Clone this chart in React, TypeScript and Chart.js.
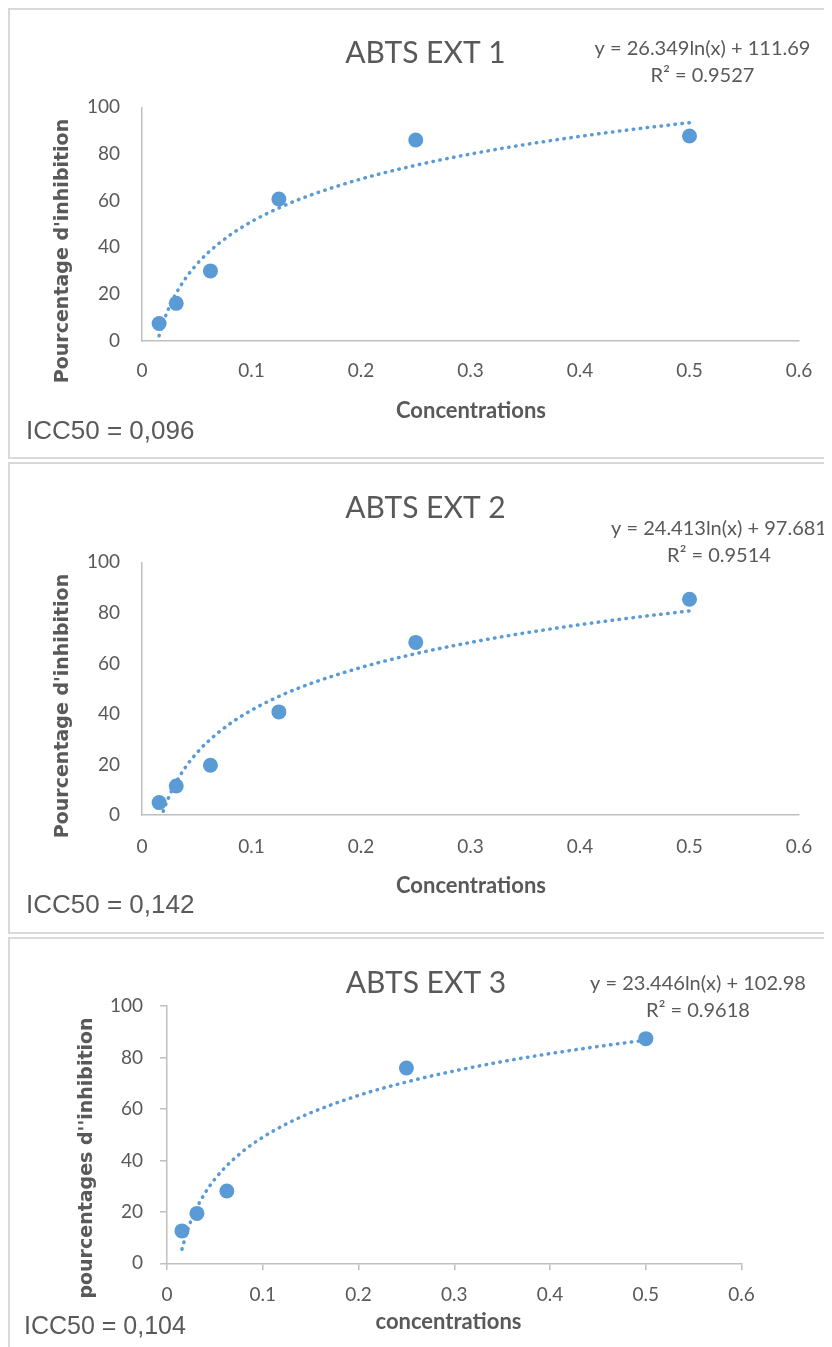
import React, { useEffect, useRef } from 'react';
import { Chart, registerables } from 'chart.js';
Chart.register(...registerables);

// ---- data ----
const concentrations = [0.015625, 0.03125, 0.0625, 0.125, 0.25, 0.5];
const concentrationsExt3 = [0.015625, 0.03125, 0.0625, 0.25, 0.5];
const inhibitionExt1 = [7.4, 16.0, 29.9, 60.7, 86.0, 87.7];
const inhibitionExt2 = [4.9, 11.5, 19.7, 40.8, 68.3, 85.4];
const inhibitionExt3 = [12.6, 19.4, 28.1, 75.9, 87.3];

const trendX = [0.015625, 0.02, 0.025, 0.03, 0.04, 0.05, 0.06, 0.08, 0.1, 0.125, 0.15, 0.2, 0.25, 0.3, 0.35, 0.4, 0.45, 0.5];
const trendExt1 = [2.11, 8.61, 14.49, 19.3, 26.88, 32.76, 37.56, 45.14, 51.02, 56.9, 61.7, 69.28, 75.16, 79.97, 84.03, 87.55, 90.65, 93.43];
const trendExt2 = [-3.85, 2.18, 7.62, 12.08, 19.1, 24.55, 29.0, 36.02, 41.47, 46.92, 51.37, 58.39, 63.84, 68.29, 72.05, 75.31, 78.19, 80.76];
const trendExt3 = [5.47, 11.26, 16.49, 20.77, 27.51, 32.74, 37.02, 43.76, 48.99, 54.23, 58.5, 65.25, 70.48, 74.75, 78.37, 81.5, 84.26, 86.73];

const xTickLabels = ['0', '0.1', '0.2', '0.3', '0.4', '0.5', '0.6'];
const yTickLabels = ['0', '20', '40', '60', '80', '100'];

const titles = ['ABTS EXT 1', 'ABTS EXT 2', 'ABTS EXT 3'];
const equations = ['y = 26.349ln(x) + 111.69', 'y = 24.413ln(x) + 97.681', 'y = 23.446ln(x) + 102.98'];
const rSquared = ['R² = 0.9527', 'R² = 0.9514', 'R² = 0.9618'];
const icc50 = ['ICC50 = 0,096', 'ICC50 = 0,142', 'ICC50 = 0,104'];
const xTitles = ['Concentrations', 'Concentrations', 'concentrations'];
const yTitles = ["Pourcentage d'inhibition", "Pourcentage d'inhibition", "pourcentages d''inhibition"];

const seriesX = [concentrations, concentrations, concentrationsExt3];
const seriesY = [inhibitionExt1, inhibitionExt2, inhibitionExt3];
const trendY = [trendExt1, trendExt2, trendExt3];

// ---- layout (positions / styles) ----
const CANVAS_W = 829;
const layouts = [
  { top: 0, height: 451, T: 97.3, B: 330.7, L: 132, R: 789, ticks: false, yPad: 22, xPad: 19,
    title: [415.5, 53.3], eqX: 692.5, eqY: [45, 71.7], icc: [16, 429.3, 26], xTitle: [461, 408], yTitle: [53, 241] },
  { top: 454, height: 472, T: 98.3, B: 351, L: 132, R: 789, ticks: false, yPad: 22, xPad: 20,
    title: [415.5, 54.3], eqX: 709, eqY: [71, 97.7], icc: [16, 449.3, 26], xTitle: [461, 429], yTitle: [53, 242] },
  { top: 929, height: 420, T: 67, B: 324.3, L: 157, R: 731.6, ticks: true, yPad: 17, xPad: 13,
    title: [416, 54.3], eqX: 688, eqY: [51, 78], icc: [14, 395, 25], xTitle: [438.5, 390], yTitle: [77.5, 219] },
];

const BLUE = '#5B9BD5';
const TEXT = '#595959';
const AXIS = '#BFBFBF';

const textPlugin = {
  id: 'panelText',
  afterDraw(chart: any, _args: any, opts: any) {
    const i = opts.index;
    const L = layouts[i];
    const ctx = chart.ctx;
    ctx.save();
    ctx.fillStyle = TEXT;
    ctx.textBaseline = 'alphabetic';
    ctx.textAlign = 'center';
    ctx.font = '30px Lato';
    ctx.fillText(titles[i], L.title[0], L.title[1]);
    ctx.font = '20px Lato';
    ctx.fillText(equations[i], L.eqX, L.eqY[0]);
    ctx.fillText(rSquared[i], L.eqX, L.eqY[1]);
    ctx.font = 'bold 22px Lato';
    ctx.fillText(xTitles[i], L.xTitle[0], L.xTitle[1]);
    ctx.textAlign = 'left';
    ctx.font = `${L.icc[2]}px "Liberation Sans"`;
    ctx.fillText(icc50[i], L.icc[0], L.icc[1]);
    ctx.translate(L.yTitle[0], L.yTitle[1]);
    ctx.rotate(-Math.PI / 2);
    ctx.textAlign = 'center';
    ctx.textBaseline = 'middle';
    ctx.font = 'bold 19px "DejaVu Sans"';
    ctx.fillText(yTitles[i], 0, 0);
    ctx.restore();
  },
};

function Panel({ idx }: { idx: number }) {
  const ref = useRef<HTMLCanvasElement>(null);
  const L = layouts[idx];
  const H = L.height - 4;
  useEffect(() => {
    const xs = seriesX[idx];
    const ys = seriesY[idx];
    const ty = trendY[idx];
    const gridOpts = {
      display: L.ticks,
      drawOnChartArea: false,
      drawTicks: L.ticks,
      tickLength: 7,
      color: AXIS,
      lineWidth: 1.5,
    };
    const chart = new Chart(ref.current as HTMLCanvasElement, {
      type: 'scatter',
      data: {
        datasets: [
          {
            type: 'scatter',
            data: xs.map((x, k) => ({ x, y: ys[k] })),
            backgroundColor: BLUE,
            borderColor: BLUE,
            borderWidth: 0,
            pointRadius: 7.5,
            pointHoverRadius: 7.5,
          },
          {
            type: 'line',
            data: trendX.map((x, k) => ({ x, y: ty[k] })),
            borderColor: BLUE,
            borderWidth: 3.5,
            borderDash: [0.5, 6.5],
            borderCapStyle: 'round',
            pointRadius: 0,
            cubicInterpolationMode: 'monotone',
            fill: false,
          } as any,
        ],
      },
      options: {
        responsive: false,
        animation: false,
        events: [],
        layout: { padding: { left: 0, top: L.T, right: CANVAS_W - L.R, bottom: H - L.B - 50 } },
        plugins: {
          legend: { display: false },
          tooltip: { enabled: false },
          panelText: { index: idx },
        } as any,
        scales: {
          x: {
            type: 'linear',
            position: 'bottom',
            min: 0,
            max: 0.6,
            ticks: {
              stepSize: 0.1,
              padding: L.xPad,
              color: TEXT,
              font: { family: 'Lato', size: 19 },
              maxRotation: 0,
              autoSkip: false,
              callback: (_v: any, i: number) => xTickLabels[i],
            },
            grid: gridOpts,
            border: { display: true, color: AXIS, width: 1.5 },
            afterFit: (s: any) => { s.height = 50; s.paddingLeft = 0; s.paddingRight = 0; },
          },
          y: {
            type: 'linear',
            position: 'left',
            min: 0,
            max: 100,
            ticks: {
              stepSize: 20,
              padding: L.yPad,
              color: TEXT,
              font: { family: 'Lato', size: 19 },
              callback: (_v: any, i: number) => yTickLabels[i],
            },
            grid: gridOpts,
            border: { display: true, color: AXIS, width: 1.5 },
            afterFit: (s: any) => { s.width = L.L; s.paddingTop = 0; s.paddingBottom = 0; },
          },
        },
      } as any,
      plugins: [textPlugin],
    });
    return () => chart.destroy();
  }, [idx]);
  return (
    <div
      style={{
        position: 'absolute',
        left: 0,
        top: L.top,
        width: CANVAS_W + 4,
        height: L.height,
        border: '2px solid #D9D9D9',
        boxSizing: 'border-box',
        background: '#fff',
      }}
    >
      <canvas ref={ref} width={CANVAS_W} height={H} style={{ display: 'block', width: CANVAS_W, height: H }} />
    </div>
  );
}

export default function App() {
  return (
    <div style={{ position: 'relative', width: 824, height: 1339, overflow: 'hidden', background: '#fff' }}>
      <Panel idx={0} />
      <Panel idx={1} />
      <Panel idx={2} />
    </div>
  );
}
